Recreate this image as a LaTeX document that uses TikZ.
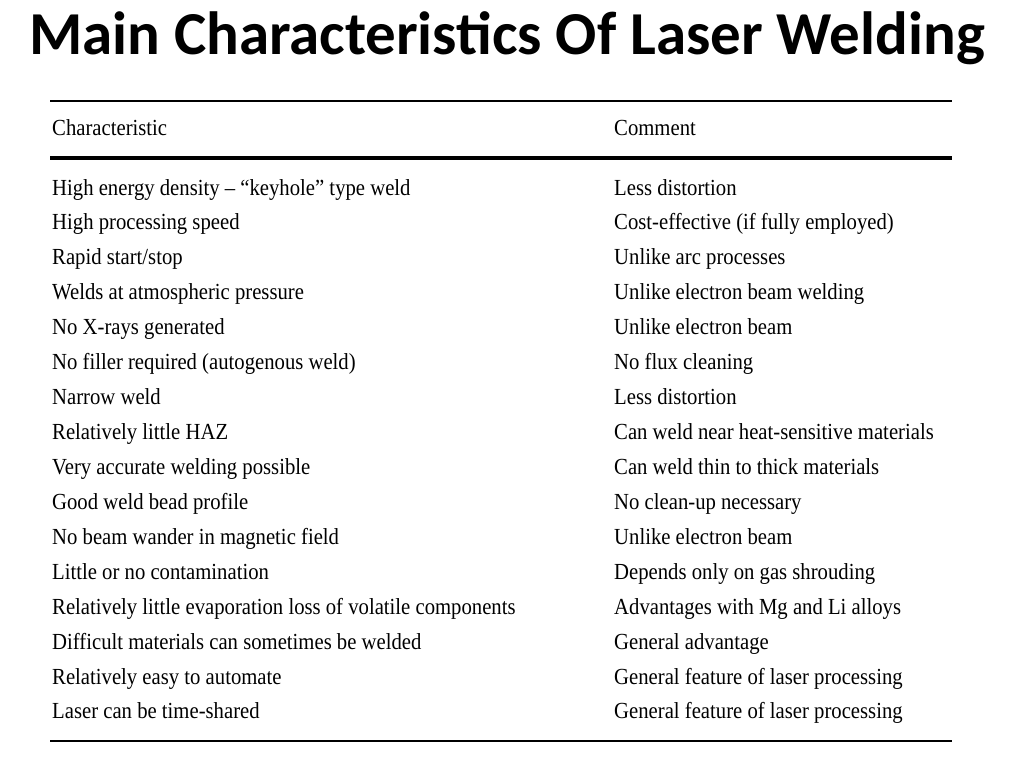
\documentclass[tikz,border=0pt]{standalone}
\usepackage{fontspec}
\setmainfont{Liberation Serif}[FakeStretch=0.9]
\newfontfamily\titlefont{Carlito}
\begin{document}
\begin{tikzpicture}[x=1pt,y=-1pt,
  cell/.style={anchor=base west,inner sep=0pt,font=\fontsize{23}{26}\selectfont},
  ttl/.style={font=\titlefont\bfseries\fontsize{61}{64}\selectfont,inner sep=0pt}]
\useasboundingbox (0,0) rectangle (1024,768);
\node[ttl] (title) at (507,38) {Main Characteristics Of Laser Welding};
\draw[line width=1.8pt] (50,101) coordinate (t1) -- (952,101) coordinate (t2);
\draw[line width=3.5pt] (50,158) coordinate (m1) -- (952,158) coordinate (m2);
\draw[line width=2.5pt] (50,741) coordinate (b1) -- (952,741) coordinate (b2);
\node[cell] (h1) at (52,135) {Characteristic};
\node[cell] (h2) at (614,135) {Comment};
\foreach \i/\a/\b in {
0/{High energy density -- ``keyhole'' type weld}/{Less distortion},
1/{High processing speed}/{Cost-effective (if fully employed)},
2/{Rapid start/stop}/{Unlike arc processes},
3/{Welds at atmospheric pressure}/{Unlike electron beam welding},
4/{No X-rays generated}/{Unlike electron beam},
5/{No filler required (autogenous weld)}/{No flux cleaning},
6/{Narrow weld}/{Less distortion},
7/{Relatively little HAZ}/{Can weld near heat-sensitive materials},
8/{Very accurate welding possible}/{Can weld thin to thick materials},
9/{Good weld bead profile}/{No clean-up necessary},
10/{No beam wander in magnetic field}/{Unlike electron beam},
11/{Little or no contamination}/{Depends only on gas shrouding},
12/{Relatively little evaporation loss of volatile components}/{Advantages with Mg and Li alloys},
13/{Difficult materials can sometimes be welded}/{General advantage},
14/{Relatively easy to automate}/{General feature of laser processing},
15/{Laser can be time-shared}/{General feature of laser processing}}
{
  \node[cell] (a\i) at (52,{195+34.93*\i}) {\a};
  \node[cell] (c\i) at (614,{195+34.93*\i}) {\b};
}
\end{tikzpicture}
\end{document}
